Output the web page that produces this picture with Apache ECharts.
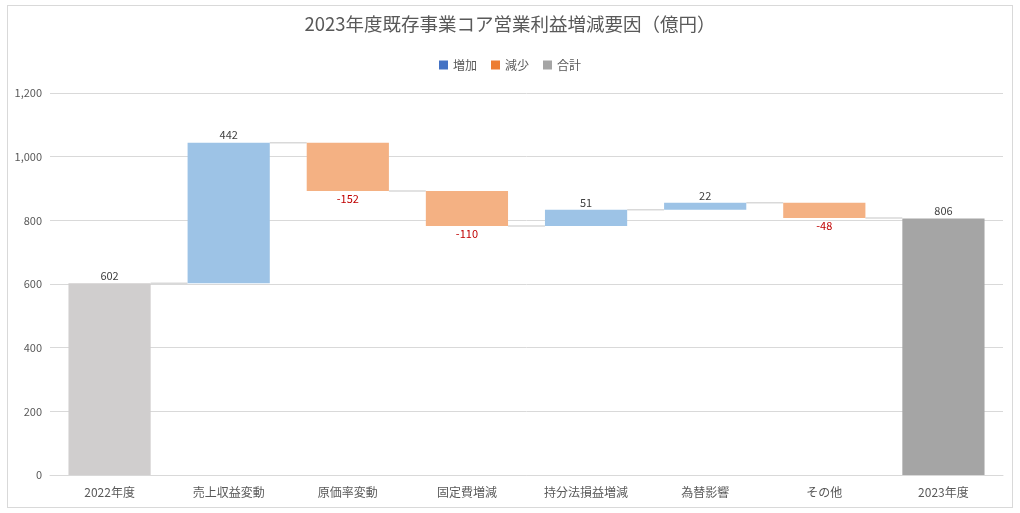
<!DOCTYPE html>
<html><head><meta charset="utf-8">
<script src="https://cdn.jsdelivr.net/npm/echarts@6/dist/echarts.min.js"></script>
<style>
html,body{margin:0;padding:0;background:#fff;}
#frame{position:absolute;left:7px;top:5px;width:1004px;height:501px;border:1px solid #D9D9D9;}
#main{position:absolute;left:0;top:0;width:1020px;height:513px;}
</style></head>
<body>
<div id="frame"></div>
<div id="main"></div>
<script>
const categories = ['2022年度','売上収益変動','原価率変動','固定費増減','持分法損益増減','為替影響','その他','2023年度'];
const startValue = 602;
const deltas = [442, -152, -110, 51, 22, -48];
const endValue = 806;
const yTicks = [0, 200, 400, 600, 800, 1000, 1200];

const FONT = '"Noto Sans CJK JP", "Noto Sans", sans-serif';
const base = [], inc = [], dec = [], tot = [], levels = [];
let cum = startValue;
base.push(0); inc.push('-'); dec.push('-');
tot.push({value: startValue, itemStyle: {color: '#D0CECE'}});
levels.push(cum);
deltas.forEach(d => {
  if (d >= 0) { base.push(cum); inc.push(d); dec.push('-'); cum += d; }
  else { cum += d; base.push(cum); dec.push(-d); inc.push('-'); }
  tot.push('-');
  levels.push(cum);
});
base.push(0); inc.push('-'); dec.push('-');
tot.push({value: endValue, itemStyle: {color: '#A5A5A5'}});

const connectorData = levels.map((v, i) => [i, v]);
const BW = 0.69;

const chart = echarts.init(document.getElementById('main'));
chart.setOption({
  animation: false,
  title: {text: '2023年度既存事業コア営業利益増減要因（億円）', left: 'center', top: 10,
    textStyle: {fontFamily: FONT, fontSize: 18.5, fontWeight: 'normal', color: '#595959'}},
  legend: {top: 54, left: 'center', itemWidth: 9, itemHeight: 9, itemGap: 14,
    textStyle: {fontFamily: FONT, fontSize: 12, color: '#595959'},
    data: [
      {name: '増加', icon: 'rect', itemStyle: {color: '#4472C4'}},
      {name: '減少', icon: 'rect', itemStyle: {color: '#ED7D31'}},
      {name: '合計', icon: 'rect', itemStyle: {color: '#A5A5A5'}}
    ]},
  grid: {left: 50, right: 17, top: 93, bottom: 38},
  xAxis: {type: 'category', data: categories,
    axisLine: {lineStyle: {color: '#D9D9D9'}}, axisTick: {show: false},
    axisLabel: {fontFamily: FONT, fontSize: 12, color: '#595959', margin: 11}},
  yAxis: {type: 'value', min: 0, max: 1200, interval: 200,
    axisLine: {show: false}, axisTick: {show: false},
    splitLine: {lineStyle: {color: '#D9D9D9'}},
    axisLabel: {fontFamily: FONT, fontSize: 11, color: '#595959', margin: 8,
      formatter: v => v.toLocaleString('en-US')}},
  series: [
    {name: 'base', type: 'bar', stack: 'w', barWidth: (BW*100)+'%', data: base,
      itemStyle: {color: 'transparent'}, silent: true, legendHoverLink: false},
    {name: '増加', type: 'bar', stack: 'w', data: inc, itemStyle: {color: '#9DC3E6'},
      label: {show: true, position: 'top', distance: 2, fontFamily: FONT, fontSize: 11, color: '#404040'}},
    {name: '減少', type: 'bar', stack: 'w', data: dec, itemStyle: {color: '#F4B183'},
      label: {show: true, position: 'bottom', distance: 2, fontFamily: FONT, fontSize: 11, color: '#C00000',
        formatter: p => '-' + p.value}},
    {name: '合計', type: 'bar', stack: 'w', data: tot, itemStyle: {color: '#A5A5A5'},
      label: {show: true, position: 'top', distance: 2, fontFamily: FONT, fontSize: 11, color: '#404040'}},
    {name: 'connector', type: 'custom', data: connectorData, z: 1, silent: true,
      renderItem: (params, api) => {
        const p = api.coord([api.value(0), api.value(1)]);
        const w = api.size([1, 0])[0];
        const x1 = p[0] + w * BW / 2, x2 = p[0] + w - w * BW / 2;
        return {type: 'line', shape: {x1: x1, y1: p[1], x2: x2, y2: p[1]},
          style: {stroke: '#D9D9D9', lineWidth: 1.5}};
      }}
  ]
});
</script>
</body></html>
